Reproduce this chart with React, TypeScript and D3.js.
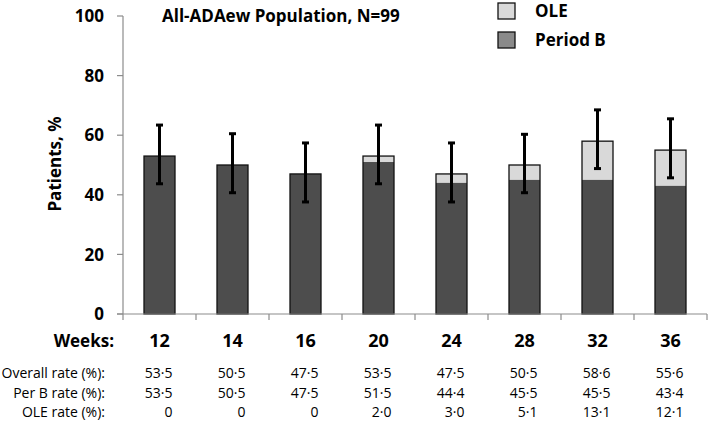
import React from "react";
import * as d3 from "d3";

const weeks = ["12", "14", "16", "20", "24", "28", "32", "36"];
const periodB = [53, 50, 47, 51, 44, 45, 45, 43];
const total = [53, 50, 47, 53, 47, 50, 58, 55];
const errLow = [43.7, 40.7, 37.6, 43.7, 37.6, 40.7, 48.8, 45.7];
const errHigh = [63.4, 60.5, 57.4, 63.4, 57.4, 60.3, 68.5, 65.5];
const yTicks = [0, 20, 40, 60, 80, 100];
const overallRate = ["53·5", "50·5", "47·5", "53·5", "47·5", "50·5", "58·6", "55·6"];
const perBRate = ["53·5", "50·5", "47·5", "51·5", "44·4", "45·5", "45·5", "43·4"];
const oleRate = ["0", "0", "0", "2·0", "3·0", "5·1", "13·1", "12·1"];
const rowLabels = ["Overall rate (%):", "Per B rate (%):", "OLE rate (%):"];

const FONT = "'Open Sans', Lato, sans-serif";

export default function App() {
  const W = 709, H = 424;
  const x0 = 123, x1 = 707;
  const yTop = 16, yBot = 314;
  const x = d3.scaleBand<string>().domain(weeks).range([x0, x1]).padding(0);
  const y = d3.scaleLinear().domain([0, 100]).range([yBot, yTop]);
  const bw = 31;
  const dark = "#4d4d4d", light = "#d9d9d9", axis = "#8c8c8c";
  const rows = [overallRate, perBRate, oleRate];
  const rowY = [373, 392.5, 412];

  return (
    <svg width={W} height={H} style={{ position: "absolute", left: 0, top: 0, background: "#fff" }} fontFamily={FONT}>
      {/* y axis */}
      <line x1={x0} x2={x0} y1={yTop} y2={yBot} stroke={axis} strokeWidth={1.2} />
      {yTicks.map(t => (
        <g key={t}>
          <line x1={x0 - 6} x2={x0} y1={y(t)} y2={y(t)} stroke={axis} strokeWidth={1.2} />
          <text x={104} y={y(t)} dy="0.36em" textAnchor="end" fontSize={17} fontWeight="bold" fill="#000">{t}</text>
        </g>
      ))}
      <text transform={`translate(60.5,164) rotate(-90)`} textAnchor="middle" fontSize={17} fontWeight="bold" fill="#000">Patients, %</text>
      {/* bars */}
      {weeks.map((w, i) => {
        const cx = (x(w) as number) + x.bandwidth() / 2;
        return (
          <g key={w}>
            <rect x={cx - bw / 2} y={y(total[i])} width={bw} height={y(periodB[i]) - y(total[i])} fill={light} />
            <rect x={cx - bw / 2} y={y(periodB[i])} width={bw} height={yBot - y(periodB[i])} fill={dark} />
            <rect x={cx - bw / 2} y={y(total[i])} width={bw} height={yBot - y(total[i])} fill="none" stroke="#111" strokeWidth={1.3} />
            <line x1={cx} x2={cx} y1={y(errHigh[i])} y2={y(errLow[i])} stroke="#000" strokeWidth={3} />
            <line x1={cx - 3.5} x2={cx + 3.5} y1={y(errHigh[i])} y2={y(errHigh[i])} stroke="#000" strokeWidth={3} />
            <line x1={cx - 3.5} x2={cx + 3.5} y1={y(errLow[i])} y2={y(errLow[i])} stroke="#000" strokeWidth={3} />
            <text x={cx} y={341} dy="0.36em" textAnchor="middle" fontSize={18} fontWeight="bold" fill="#000">{w}</text>
            {rows.map((r, j) => (
              <text key={j} x={cx + 13} y={rowY[j]} dy="0.36em" textAnchor="end" fontSize={14} fill="#000">{r[i]}</text>
            ))}
          </g>
        );
      })}
      {/* x axis */}
      <line x1={x0 - 6} x2={x1} y1={yBot} y2={yBot} stroke={axis} strokeWidth={1.2} />
      {d3.range(weeks.length + 1).map(k => {
        const tx = x0 + k * x.step();
        return <line key={k} x1={tx} x2={tx} y1={yBot} y2={yBot + 6} stroke={axis} strokeWidth={1.2} />;
      })}
      <text x={114} y={341} dy="0.36em" textAnchor="end" fontSize={17} fontWeight="bold" fill="#000">Weeks:</text>
      {rowLabels.map((l, j) => (
        <text key={l} x={105} y={rowY[j]} dy="0.36em" textAnchor="end" fontSize={14} fill="#000">{l}</text>
      ))}
      {/* title */}
      <text x={162} y={15.6} dy="0.36em" fontSize={17} fontWeight="bold" fill="#000">All-ADAew Population, N=99</text>
      {/* legend */}
      <rect x={498} y={3} width={17} height={16} fill={light} stroke="#111" strokeWidth={1.3} />
      <text x={535} y={10.5} dy="0.36em" fontSize={17} fontWeight="bold" fill="#000">OLE</text>
      <rect x={498} y={32} width={17} height={16} fill="#8a8a8a" stroke="#111" strokeWidth={1.3} />
      <text x={535} y={39.5} dy="0.36em" fontSize={17} fontWeight="bold" fill="#000">Period B</text>
    </svg>
  );
}
